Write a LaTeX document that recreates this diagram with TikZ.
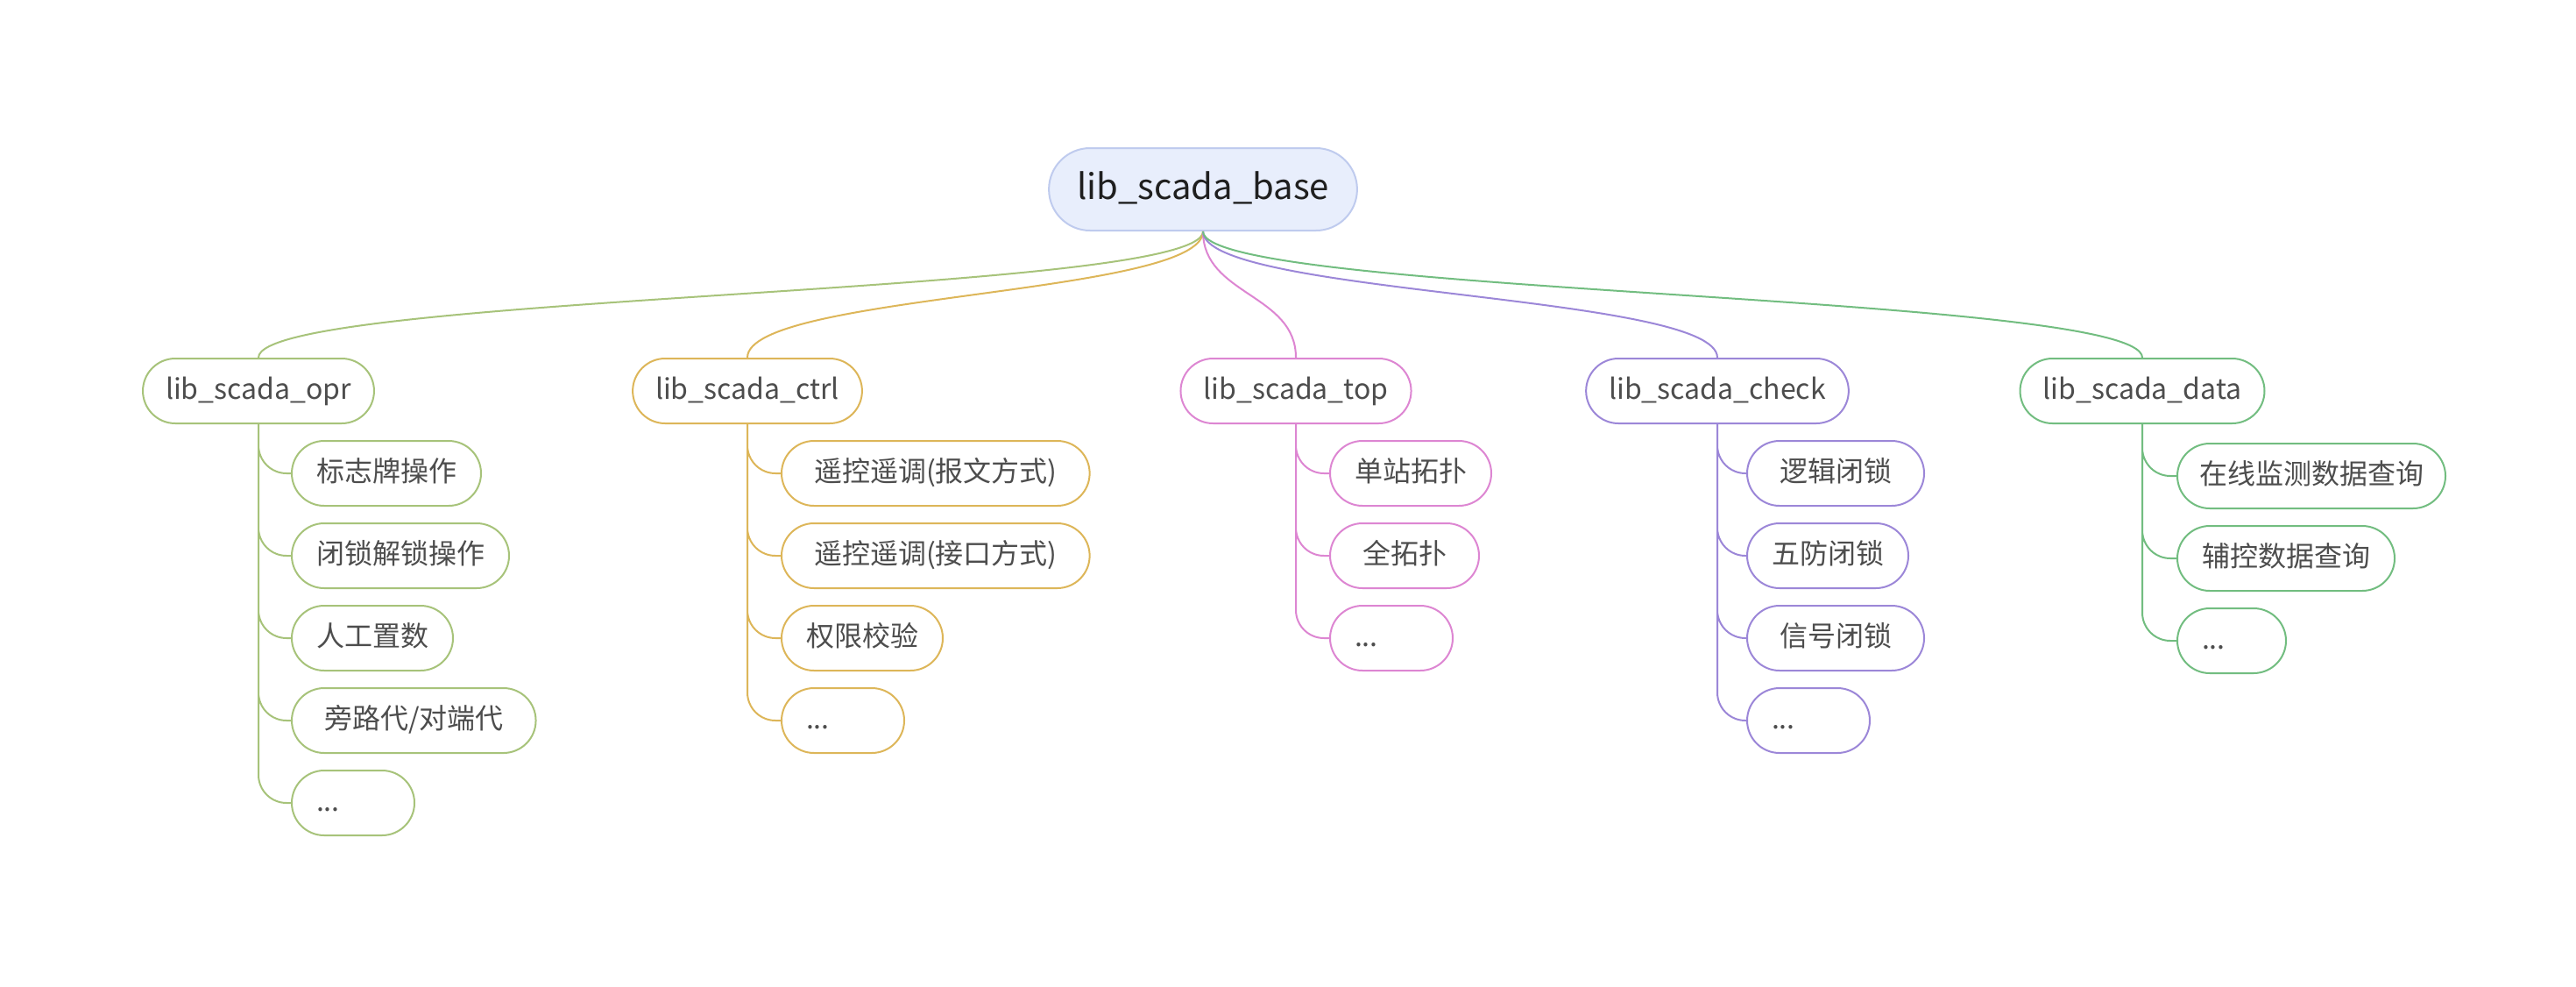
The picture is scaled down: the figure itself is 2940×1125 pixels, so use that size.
\documentclass[tikz,border=0pt]{standalone}
\usepackage{fontspec}
\setmainfont{Noto Sans CJK SC}
\definecolor{rootfill}{HTML}{E8EEFC}
\definecolor{rootline}{HTML}{BFCBEE}
\definecolor{txtgray}{HTML}{4D4D4D}
\definecolor{oprc}{HTML}{A7C37A}
\definecolor{ctrlc}{HTML}{DDB659}
\definecolor{topc}{HTML}{DD86D2}
\definecolor{checkc}{HTML}{9C87D8}
\definecolor{datac}{HTML}{72BD80}
\begin{document}
\begin{tikzpicture}[x=0.5pt,y=-0.5pt,
  rootbox/.style={draw=rootline,fill=rootfill,line width=1pt,rounded corners=23.5pt,minimum height=47pt,inner xsep=16pt,text=black!88,font=\fontsize{20pt}{24pt}\selectfont,text height=15.5pt,text depth=4.5pt},
  libbox/.style={draw,line width=1pt,rounded corners=18.5pt,minimum height=37pt,inner xsep=13pt,text=txtgray,font=\fontsize{16pt}{19pt}\selectfont,text height=12.5pt,text depth=3.5pt},
  leafbox/.style={libbox,anchor=west,inner xsep=14pt},
  widebox/.style={leafbox,inner xsep=18.5pt},
  morebox/.style={leafbox,text width=42pt,align=left},
  link/.style={line width=1pt},
  fork/.style={link,rounded corners=16pt}]
  \path[use as bounding box,fill=white] (0,0) rectangle (2940,1125);

  % root and modules
  \node[rootbox] (base) at (1373,216) {lib\_scada\_base};
  \node[libbox,draw=oprc] (opr) at (295,446) {lib\_scada\_opr};
  \node[libbox,draw=ctrlc] (ctrl) at (853,446) {lib\_scada\_ctrl};
  \node[libbox,draw=topc] (top) at (1479,446) {lib\_scada\_top};
  \node[libbox,draw=checkc] (check) at (1960,446) {lib\_scada\_check};
  \node[libbox,draw=datac] (data) at (2445,446) {lib\_scada\_data};

  % lib_scada_opr
  \node[leafbox,draw=oprc] (o1) at (332,540) {标志牌操作};
  \node[leafbox,draw=oprc] (o2) at (332,634) {闭锁解锁操作};
  \node[leafbox,draw=oprc] (o3) at (332,728) {人工置数};
  \node[widebox,draw=oprc] (o4) at (332,822) {旁路代/对端代};
  \node[morebox,draw=oprc] (o5) at (332,916) {...};

  % lib_scada_ctrl
  \node[widebox,draw=ctrlc] (c1) at (891,540) {遥控遥调(报文方式)};
  \node[widebox,draw=ctrlc] (c2) at (891,634) {遥控遥调(接口方式)};
  \node[leafbox,draw=ctrlc] (c3) at (891,728) {权限校验};
  \node[morebox,draw=ctrlc] (c4) at (891,822) {...};

  % lib_scada_top
  \node[leafbox,draw=topc] (t1) at (1517,540) {单站拓扑};
  \node[widebox,draw=topc] (t2) at (1517,634) {全拓扑};
  \node[morebox,draw=topc] (t3) at (1517,728) {...};

  % lib_scada_check
  \node[widebox,draw=checkc] (k1) at (1993,540) {逻辑闭锁};
  \node[leafbox,draw=checkc] (k2) at (1993,634) {五防闭锁};
  \node[widebox,draw=checkc] (k3) at (1993,728) {信号闭锁};
  \node[morebox,draw=checkc] (k4) at (1993,822) {...};

  % lib_scada_data
  \node[leafbox,draw=datac,inner xsep=12.5pt] (d1) at (2484,543) {在线监测数据查询};
  \node[leafbox,draw=datac] (d2) at (2484,637) {辅控数据查询};
  \node[morebox,draw=datac,text width=34pt] (d3) at (2484,731) {...};

  % root to modules
  \draw[link,oprc] (base.south) .. controls +(0,73) and +(0,-73) .. (opr.north);
  \draw[link,ctrlc] (base.south) .. controls +(0,73) and +(0,-73) .. (ctrl.north);
  \draw[link,topc] (base.south) .. controls +(0,73) and +(0,-73) .. (top.north);
  \draw[link,checkc] (base.south) .. controls +(0,73) and +(0,-73) .. (check.north);
  \draw[link,datac] (base.south) .. controls +(0,73) and +(0,-73) .. (data.north);

  % modules to items
  \draw[fork,oprc] (opr.south) |- (o1.west) (opr.south) |- (o2.west) (opr.south) |- (o3.west)
    (opr.south) |- (o4.west) (opr.south) |- (o5.west);
  \draw[fork,ctrlc] (ctrl.south) |- (c1.west) (ctrl.south) |- (c2.west) (ctrl.south) |- (c3.west)
    (ctrl.south) |- (c4.west);
  \draw[fork,topc] (top.south) |- (t1.west) (top.south) |- (t2.west) (top.south) |- (t3.west);
  \draw[fork,checkc] (check.south) |- (k1.west) (check.south) |- (k2.west) (check.south) |- (k3.west)
    (check.south) |- (k4.west);
  \draw[fork,datac] (data.south) |- (d1.west) (data.south) |- (d2.west) (data.south) |- (d3.west);
\end{tikzpicture}
\end{document}
